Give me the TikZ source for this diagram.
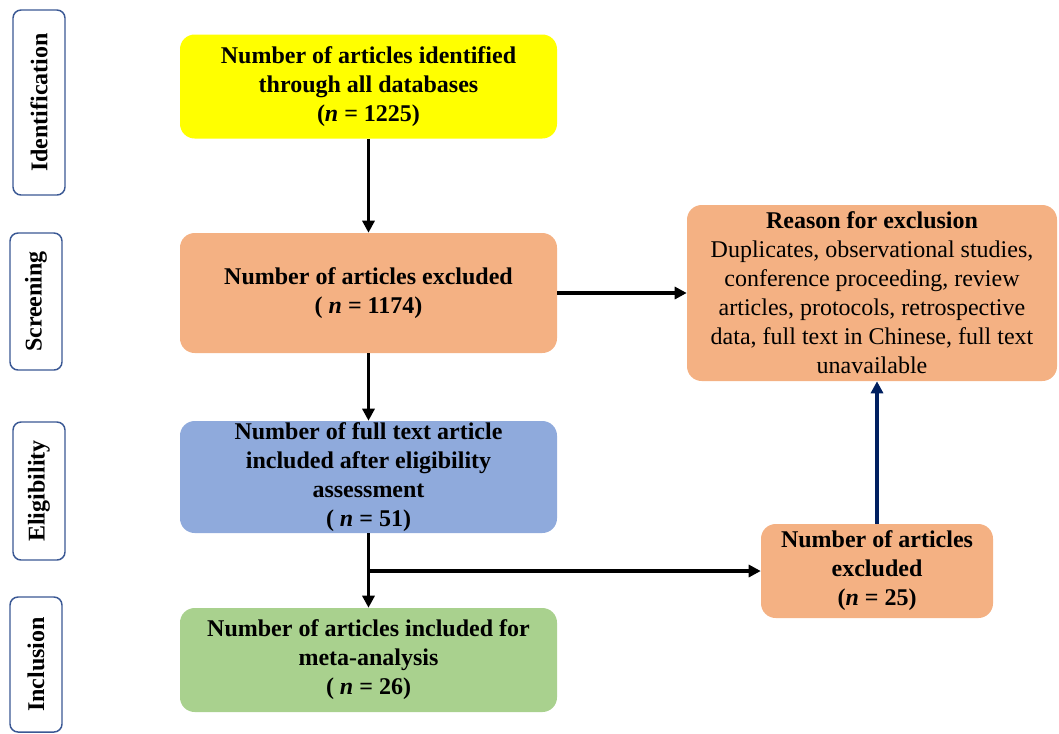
\documentclass[tikz,border=0pt]{standalone}
\usepackage{fontspec}
\setmainfont{Liberation Serif}
\usetikzlibrary{arrows.meta}
\definecolor{cyel}{HTML}{FFFF00}
\definecolor{cora}{HTML}{F4B183}
\definecolor{cblu}{HTML}{8FAADC}
\definecolor{cgrn}{HTML}{A9D18E}
\definecolor{cside}{HTML}{3A5894}
\definecolor{cnavy}{HTML}{002060}
\newcommand{\nn}{\textit{n}}
\begin{document}
\begin{tikzpicture}[x=0.75pt,y=-0.75pt,
  every node/.style={font=\fontsize{18}{21.75}\selectfont},
  flowbox/.style={rounded corners=11pt, align=center, inner sep=0pt, font=\fontsize{18}{21.75}\selectfont\bfseries},
  sidebox/.style={draw=cside, line width=1.1pt, rounded corners=6pt, rotate=90, inner sep=0pt, minimum height=39pt, font=\fontsize{18}{21.75}\selectfont\bfseries},
  arr/.style={line width=2.6pt, -{Triangle[length=9pt,width=9pt]}},
  navyarr/.style={draw=cnavy, line width=2.6pt, -{Triangle[length=9pt,width=9pt]}, cnavy}
]
\useasboundingbox (0,0) rectangle (1059,733);

% side labels
\node[sidebox, minimum width=138.75pt] (sid) at (39,102.5) {Identification};
\node[sidebox, minimum width=102.75pt] (ssc) at (36,301.5) {Screening};
\node[sidebox, minimum width=103.5pt] (sel) at (39,491) {Eligibility};
\node[sidebox, minimum width=101.25pt] (sin) at (36,664.5) {Inclusion};

% main boxes
\node[flowbox, fill=cyel, minimum width=282.75pt, minimum height=78pt] (ident) at (368.5,86.5)
  {Number of articles identified\\through all databases\\(\nn{} = 1225)};
\node[flowbox, fill=cora, minimum width=282.75pt, minimum height=90pt] (screen) at (368.5,293)
  {Number of articles excluded\\( \nn{} = 1174)};
\node[flowbox, fill=cblu, minimum width=282.75pt, minimum height=84pt] (elig) at (368.5,477)
  {Number of full text article\\included after eligibility\\assessment\\( \nn{} = 51)};
\node[flowbox, fill=cgrn, minimum width=282.75pt, minimum height=78pt] (incl) at (368.5,660)
  {Number of articles included for\\meta-analysis\\( \nn{} = 26)};
\node[flowbox, fill=cora, minimum width=277.5pt, minimum height=132pt, font=\fontsize{18}{21.75}\selectfont] (reason) at (872,293)
  {\textbf{Reason for exclusion}\\Duplicates, observational studies,\\conference proceeding, review\\articles, protocols, retrospective\\data, full text in Chinese, full text\\unavailable};
\node[flowbox, fill=cora, minimum width=174pt, minimum height=70.5pt] (excl) at (877,571)
  {Number of articles\\excluded\\(\nn{} = 25)};

% connectors
\draw[arr] (ident) -- (screen);
\draw[arr] (screen) -- (reason);
\draw[arr] (screen) -- (elig);
\draw[arr] (elig) -- (incl);
\coordinate (br) at (elig.south |- excl.west);
\draw[arr] (br) -- (excl);
\draw[navyarr] (excl) -- (excl |- reason.south);
\end{tikzpicture}
\end{document}
